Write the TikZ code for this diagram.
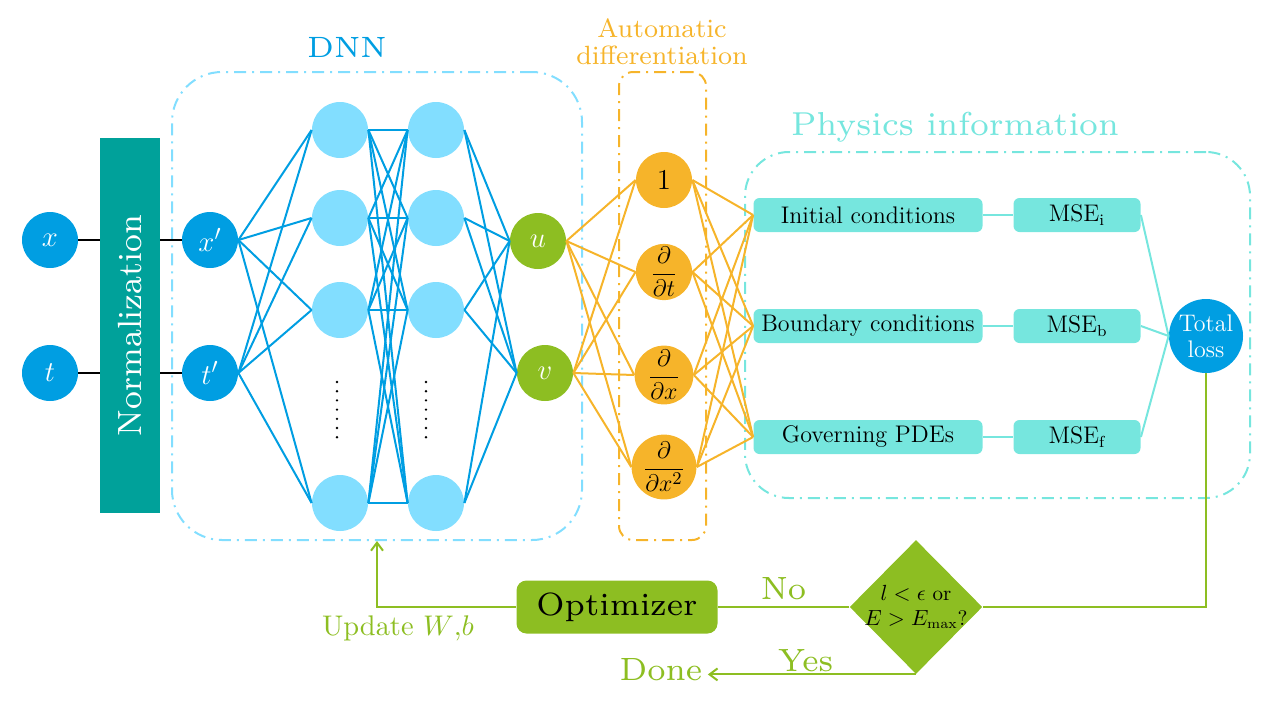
\documentclass[tikz,border=0pt]{standalone}
\usepackage{amsmath}
\usepackage{graphicx}
\usepackage{tikz}
\usetikzlibrary{shapes.geometric,positioning,arrows.meta}

\definecolor{dnnblue}{RGB}{0,158,226}
\definecolor{hidblue}{RGB}{130,222,255}
\definecolor{normteal}{RGB}{0,161,154}
\definecolor{outgreen}{RGB}{141,190,34}
\definecolor{adorange}{RGB}{246,180,42}
\definecolor{phyturq}{RGB}{118,230,222}

\tikzset{
  neuron/.style = {circle, minimum size = 28pt, inner sep = 0pt, font = \fontsize{15}{18}\selectfont},
  inneuron/.style = {neuron, fill = dnnblue, text = white},
  hidneuron/.style = {neuron, fill = hidblue},
  outneuron/.style = {neuron, fill = outgreen, text = white},
  adneuron/.style = {neuron, fill = adorange, font = \fontsize{13}{16}\selectfont},
  condbox/.style = {shape = rectangle, fill = phyturq, rounded corners = 3pt, minimum height = 17pt, inner sep = 0pt, font = \fontsize{12}{14}\selectfont},
  groupbox/.style = {shape = rectangle, draw, line width = 1pt, dash pattern = on 6pt off 3pt on 1pt off 3pt},
  bigtext/.style = {scale = 2.3, font = \fontsize{7}{8}\selectfont},
  dnnline/.style = {dnnblue, line width = 1pt},
  adline/.style = {adorange, line width = 1pt},
  phyline/.style = {phyturq, line width = 1pt},
  loopline/.style = {outgreen, line width = 1pt},
  looparrow/.style = {loopline, -{Straight Barb[length = 4pt, width = 6pt]}},
}

\begin{document}
\begin{tikzpicture}[x = 0.5pt, y = -0.5pt]
\useasboundingbox (0,0) rectangle (1269,703);

% group frames
\node[groupbox, draw = hidblue, rounded corners = 25pt, minimum width = 205pt, minimum height = 234pt] (dnn) at (377,306) {};
\node[groupbox, draw = adorange, rounded corners = 7pt, minimum width = 43.5pt, minimum height = 234pt] (adbox) at (662.5,306) {};
\node[groupbox, draw = phyturq, rounded corners = 22pt, minimum width = 252.5pt, minimum height = 173pt] (phybox) at (997.5,325) {};
\node[text = dnnblue, scale = 2.45, font = \fontsize{6}{7}\selectfont] (dnnlabel) at (347,47) {DNN};
\node[text = adorange, align = center, scale = 1.65, font = \fontsize{8}{8.3}\selectfont] (adlabel) at (662,42) {Automatic\\differentiation};
\node[bigtext, scale = 1.03, text = phyturq] (phylabel) at (955,127) {Physics information};

% inputs and normalization
\node[inneuron] (x) at (50,240) {$x$};
\node[inneuron] (t) at (50,373) {$t$};
\node[shape = rectangle, fill = normteal, text = white, rotate = 90, minimum width = 187.5pt, minimum height = 30pt] (norm) at (130,325.5) {\scalebox{2.1}{\fontsize{8}{9}\selectfont Normalization}};
\node[inneuron] (xn) at (210,240) {$x'$};
\node[inneuron] (tn) at (210,373) {$t'$};
\draw[line width = 1pt] (x) -- (x -| norm.north);
\draw[line width = 1pt] (t) -- (t -| norm.north);
\draw[line width = 1pt] (xn -| norm.south) -- (xn);
\draw[line width = 1pt] (tn -| norm.south) -- (tn);

% hidden layers
\foreach \i/\y in {1/130, 2/218, 3/310, 4/503} {
  \node[hidneuron] (h1-\i) at (340,\y) {};
  \node[hidneuron] (h2-\i) at (436,\y) {};
}
\draw[line width = 1.3pt, line cap = round, dash pattern = on 0pt off 4.6pt] (337,382) -- (337,446);
\draw[line width = 1.3pt, line cap = round, dash pattern = on 0pt off 4.6pt] (426,382) -- (426,446);

\node[outneuron] (u) at (538,241) {$u$};
\node[outneuron] (v) at (545,373) {$v$};

\foreach \i in {1,...,4} {
  \draw[dnnline] (xn.east) -- (h1-\i.west);
  \draw[dnnline] (tn.east) -- (h1-\i.west);
  \draw[dnnline] (h2-\i.east) -- (u.west);
  \draw[dnnline] (h2-\i.east) -- (v.west);
  \foreach \j in {1,...,4}
    \draw[dnnline] (h1-\i.east) -- (h2-\j.west);
}

% automatic differentiation
\node[adneuron, font = \fontsize{15}{18}\selectfont] (ad1) at (664,180) {$1$};
\node[adneuron] (ad2) at (664,272) {$\dfrac{\partial}{\partial t}$};
\node[adneuron] (ad3) at (664,375) {$\dfrac{\partial}{\partial x}$};
\node[adneuron] (ad4) at (664,467) {$\dfrac{\partial}{\partial x^2}$};

% physics information
\node[condbox, minimum width = 114.5pt] (ic) at (868,215) {Initial conditions};
\node[condbox, minimum width = 114.5pt] (bc) at (868,326) {Boundary conditions};
\node[condbox, minimum width = 114.5pt] (gp) at (868,437) {Governing PDEs};
\node[condbox, minimum width = 63.5pt] (msei) at (1077,215) {MSE$_\text{i}$};
\node[condbox, minimum width = 63.5pt] (mseb) at (1077,326) {MSE$_\text{b}$};
\node[condbox, minimum width = 63.5pt] (msef) at (1077,437) {MSE$_\text{f}$};
\node[circle, fill = dnnblue, text = white, minimum size = 37pt, inner sep = 0pt, align = center, font = \fontsize{12}{13}\selectfont] (loss) at (1206,336) {Total\\loss};

\foreach \a in {1,...,4} {
  \draw[adline] (u.east) -- (ad\a.west);
  \draw[adline] (v.east) -- (ad\a.west);
  \foreach \b in {ic, bc, gp}
    \draw[adline] (ad\a.east) -- (\b.west);
}
\foreach \b/\m in {ic/msei, bc/mseb, gp/msef} {
  \draw[phyline] (\b) -- (\m);
  \draw[phyline] (\m.east) -- (loss.west);
}

% training loop
\node[diamond, fill = outgreen, minimum width = 66pt, minimum height = 67pt, inner sep = -1.75pt, align = center, font = \fontsize{10.5}{12.5}\selectfont] (dec) at (916,607) {$l<\epsilon$ or\\$E>E_{\max}$?};
\node[shape = rectangle, fill = outgreen, rounded corners = 5pt, minimum width = 100.5pt, minimum height = 26.5pt] (opt) at (617,607) {\scalebox{2.3}{\fontsize{7}{8}\selectfont Optimizer}};
\node[bigtext, text = outgreen, inner sep = 1pt] (done) at (661,670) {Done};
\node[text = outgreen, scale = 1.42, font = \fontsize{10}{12}\selectfont] (update) at (398,628) {Update $W$,$b$};

\draw[loopline] (loss.south) |- (dec.east);
\draw[loopline] (dec.west) -- node[above, bigtext, inner sep = 1pt, text = outgreen] {No} (opt.east);
\draw[looparrow] (opt.west) -| (dnn.south);
\draw[looparrow] (dec.south) -- node[pos = 0.53, above, bigtext, inner sep = 0pt, text = outgreen] {Yes} (dec.south -| done.east);
\end{tikzpicture}
\end{document}
